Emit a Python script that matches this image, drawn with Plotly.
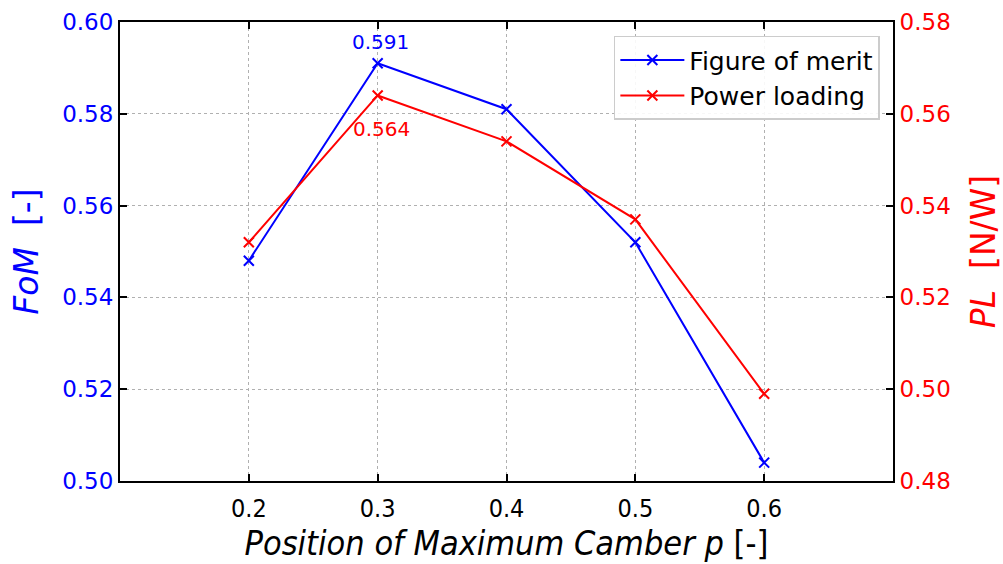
import plotly.graph_objects as go

# Data
p_pos = [0.2, 0.3, 0.4, 0.5, 0.6]
fom = [0.548, 0.591, 0.581, 0.552, 0.504]
pl = [0.532, 0.564, 0.554, 0.537, 0.499]
x_ticks = [0.2, 0.3, 0.4, 0.5, 0.6]
y1_ticks = [0.50, 0.52, 0.54, 0.56, 0.58, 0.60]
y2_ticks = [0.48, 0.50, 0.52, 0.54, 0.56, 0.58]

BLUE = "#0000ff"
RED = "#ff0000"
FONT = "DejaVu Sans"
COND = "DejaVu Sans Condensed, DejaVu Sans"

fig = go.Figure()
fig.add_trace(go.Scatter(
    x=p_pos, y=fom, name="Figure of merit", mode="lines+markers",
    line=dict(color=BLUE, width=2), legendgroup="a",
    marker=dict(symbol="x-thin", size=10, line=dict(color=BLUE, width=2)),
    yaxis="y"))
fig.add_trace(go.Scatter(
    x=p_pos, y=pl, name="Power loading", mode="lines+markers",
    line=dict(color=RED, width=2), legendgroup="b",
    marker=dict(symbol="x-thin", size=10, line=dict(color=RED, width=2)),
    yaxis="y2"))

fig.add_annotation(x=p_pos[1], y=fom[1], xref="x", yref="y", text=f"{fom[1]:.3f}",
                   showarrow=False, yshift=21, xshift=3, font=dict(family=FONT, size=20, color=BLUE))
fig.add_annotation(x=p_pos[1], y=pl[1], xref="x", yref="y2", text=f"{pl[1]:.3f}",
                   showarrow=False, yshift=-34, xshift=4, font=dict(family=FONT, size=20, color=RED))

grid = dict(showgrid=True, gridcolor="#b0b0b0", griddash="dot", gridwidth=1)

fig.update_layout(
    width=1003, height=564,
    margin=dict(l=120, r=110, t=22, b=83),
    paper_bgcolor="white", plot_bgcolor="white",
    showlegend=True,
    legend=dict(x=0.983, y=0.97, xanchor="right", yanchor="top",
                bgcolor="rgba(255,255,255,0.9)", bordercolor="#cccccc", borderwidth=1.5,
                font=dict(family=FONT, size=25, color="black"), tracegroupgap=0,
                itemwidth=64),
    xaxis=dict(range=[0.1, 0.7], tickvals=x_ticks, ticktext=[f"{v:.1f}" for v in x_ticks],
               ticks="inside", ticklen=7, tickwidth=1.5, tickcolor="black",
               showline=True, linecolor="black", linewidth=2, mirror="ticks",
               tickfont=dict(family=COND, size=25, color="black"), ticklabelstandoff=4,
               title=dict(text="<i>Position of Maximum Camber p</i> [-]",
                          font=dict(family=COND, size=34, color="black"), standoff=7),
               automargin=False, zeroline=False, **grid),
    yaxis=dict(range=[0.5, 0.6], tickvals=y1_ticks, ticktext=[f"{v:.2f}" for v in y1_ticks],
               ticks="inside", ticklen=7, tickwidth=1.5, tickcolor="black",
               showline=True, linecolor="black", linewidth=2,
               tickfont=dict(family=FONT, size=23, color=BLUE),
               title=dict(text="<i>FoM</i>  [-]", font=dict(family=FONT, size=33, color=BLUE), standoff=14),
               automargin=False, zeroline=False, **grid),
    yaxis2=dict(range=[0.48, 0.58], tickvals=y2_ticks, ticktext=[f"{v:.2f}" for v in y2_ticks],
                overlaying="y", side="right", anchor="x",
                ticks="inside", ticklen=7, tickwidth=1.5, tickcolor="black",
                showline=True, linecolor="black", linewidth=2, showgrid=False,
                tickfont=dict(family=FONT, size=23, color=RED),
                title=dict(text="<i>PL</i>  [N/W]", font=dict(family=FONT, size=33, color=RED), standoff=24),
                automargin=False, zeroline=False),
)

fig.write_html("out.html")
